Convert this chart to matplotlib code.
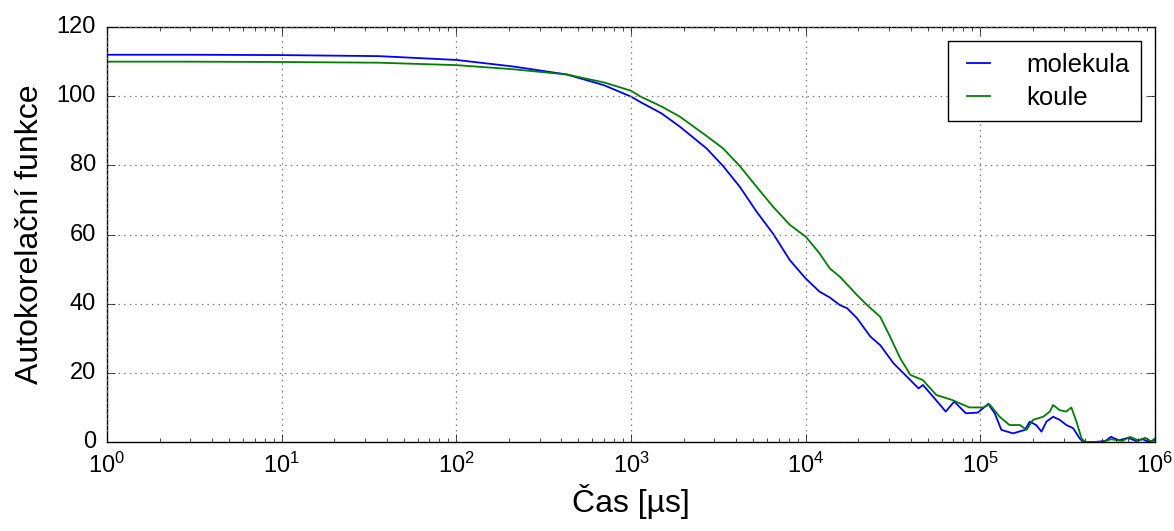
import matplotlib
matplotlib.use("Agg")
import matplotlib.pyplot as plt
from matplotlib.ticker import FixedLocator, NullFormatter, LogFormatterSciNotation

# ---- data ----
t_molekula = [1, 3, 10, 36, 100, 212, 428, 700, 1000, 1125, 1500, 1905, 2710, 3370, 4200,
              5240, 6520, 8120, 10000, 12000, 13750, 15700, 17270, 19680, 23460, 26740,
              31800, 38000, 44300, 46900, 53700, 63400, 70900, 82700, 96700, 111000,
              121000, 132000, 154000, 180000, 192000, 209000, 224000, 239000, 261000,
              285000, 311000, 340000, 371000, 389000, 450000, 520000, 560000, 620000,
              700000, 780000, 850000, 920000, 1000000]
y_molekula = [112, 112, 111.9, 111.6, 110.5, 108.6, 106.3, 103.2, 99.9, 98.4, 95.0, 91.2,
              84.9, 79.8, 73.8, 66.6, 60.2, 52.6, 47.3, 43.5, 41.8, 39.6, 38.7, 35.8, 30.5,
              28, 22.8, 18.9, 15.5, 16.5, 13.1, 8.8, 11.7, 8.3, 8.5, 11, 8.3, 3.5, 2.5,
              3.5, 5.9, 4.9, 3, 5.9, 7.3, 6.4, 4.9, 4, 1, 0, 0, 0.3, 1.5, 0.5, 1.2, 0.3,
              0.8, 0, 0.5]

t_koule = [1, 3, 10, 36, 100, 212, 428, 700, 1000, 1125, 1500, 1905, 2710, 3370, 4200,
           5240, 6520, 8120, 10000, 12000, 13750, 15700, 19680, 22500, 26740, 30400,
           34800, 39800, 46900, 56000, 69400, 86500, 104000, 113000, 129000, 147000,
           169000, 184000, 200000, 229000, 250000, 261000, 285000, 311000, 332000,
           355000, 380000, 398000, 500000, 560000, 650000, 720000, 800000, 880000,
           950000, 1000000]
y_koule = [110, 110, 109.9, 109.7, 109.0, 107.8, 106.3, 104.0, 101.6, 100.0, 97.0, 94.1,
           88.5, 84.9, 79.8, 73.8, 68.0, 62.8, 59.4, 54.6, 50.2, 47.8, 42.5, 39.6, 36.2,
           30.5, 24.2, 19.4, 17.9, 13.6, 12.1, 10, 10, 10.9, 7.3, 4.9, 4.9, 3.5, 6.4, 7.3,
           8.8, 10.7, 9.2, 8.8, 10, 5.9, 1, 0, 0, 0.8, 0.3, 1.5, 0.5, 1.2, 0.2, 1.0]

x_ticks = [1, 10, 100, 1000, 10000, 100000, 1000000]
y_ticks = [0, 20, 40, 60, 80, 100, 120]

# ---- style ----
plt.style.use("classic")
plt.rcParams["font.family"] = ["Liberation Sans", "DejaVu Sans"]
plt.rcParams["mathtext.fontset"] = "custom"
plt.rcParams["mathtext.rm"] = "Liberation Sans"
plt.rcParams["mathtext.it"] = "Liberation Sans:italic"
plt.rcParams["mathtext.bf"] = "Liberation Sans:bold"

fig = plt.figure(figsize=(11.74, 5.31), dpi=100, facecolor="white")
ax = fig.add_axes([0.0911, 0.1676, 0.8927, 0.7814])
ax.set_facecolor("white")

ax.plot(t_molekula, y_molekula, color="b", lw=1.3, label="molekula")
ax.plot(t_koule, y_koule, color="g", lw=1.3, label="koule")

ax.set_xscale("log")
ax.set_xlim(1, 1e6)
ax.set_ylim(0, 120)
ax.set_yticks(y_ticks)
ax.xaxis.set_major_locator(FixedLocator(x_ticks))
ax.xaxis.set_major_formatter(LogFormatterSciNotation())
ax.xaxis.set_minor_formatter(NullFormatter())
ax.grid(True, which="major", linestyle=":", color="0.45", linewidth=0.9)

ax.tick_params(axis="both", which="major", labelsize=17, direction="in", length=6, pad=8)
ax.tick_params(axis="both", which="minor", direction="in", length=3)

ax.set_xlabel("Čas [µs]", fontsize=23, labelpad=4)
ax.set_ylabel("Autokorelační funkce", fontsize=23, labelpad=8)

leg = ax.legend(loc="upper right", fontsize=18.5, handlelength=1.48, handletextpad=1.1,
                borderpad=0.45, labelspacing=0.35, borderaxespad=0.55, fancybox=False)
leg.get_frame().set_edgecolor("black")
leg.get_frame().set_linewidth(1.0)

fig.savefig("out.png", dpi=100, facecolor="white")
